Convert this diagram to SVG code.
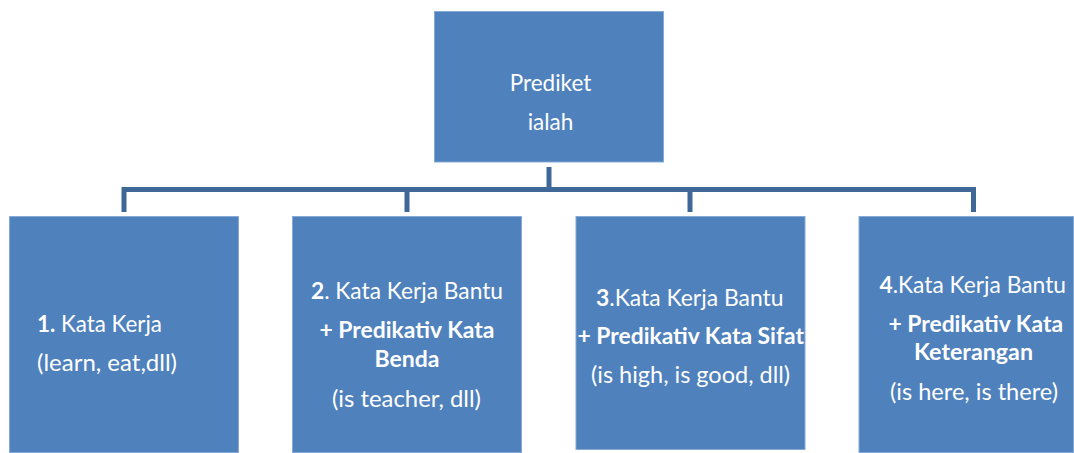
<svg xmlns="http://www.w3.org/2000/svg" width="1074" height="453" viewBox="0 0 1074 453">
<style>
.box{fill:#4F81BD;stroke:#86A9D6;stroke-width:1}
.t{font-family:Lato,"Open Sans","Liberation Sans",sans-serif;font-size:22.5px;fill:#FFFFFF}
.b{font-weight:bold}
.m{text-anchor:middle}
.conn{fill:none;stroke:#3F6797;stroke-width:5;stroke-linejoin:miter;stroke-linecap:butt}
</style>
<rect width="1074" height="453" fill="#FFFFFF"/>
<g id="connectors">
<path class="conn" d="M549,167 V189.5"/>
<path class="conn" d="M124,212 V189.5 H973.5 V212"/>
<path class="conn" d="M407,189.5 V212"/>
<path class="conn" d="M690,189.5 V212"/>
</g>
<g id="node-root">
<rect class="box" x="434.5" y="11.5" width="229" height="150.5"/>
<text class="t m" x="550.5" y="90.5">Prediket</text>
<text class="t m" x="550.5" y="129.5">ialah</text>
</g>
<g id="node-1">
<rect class="box" x="9.5" y="216.5" width="229" height="236"/>
<text class="t" x="37" y="331.5" textLength="125" lengthAdjust="spacingAndGlyphs"><tspan class="b">1.</tspan> Kata Kerja</text>
<text class="t" x="37" y="370.5" textLength="140" lengthAdjust="spacingAndGlyphs">(learn, eat,dll)</text>
</g>
<g id="node-2">
<rect class="box" x="292.5" y="216.5" width="229" height="236"/>
<text class="t" x="311" y="298.5" textLength="192" lengthAdjust="spacingAndGlyphs"><tspan class="b">2</tspan>. Kata Kerja Bantu</text>
<text class="t b" x="319.5" y="337.5" textLength="175" lengthAdjust="spacingAndGlyphs">+ Predikativ Kata</text>
<text class="t b" x="374.5" y="366.5" textLength="65" lengthAdjust="spacingAndGlyphs">Benda</text>
<text class="t" x="332" y="406.5" textLength="149" lengthAdjust="spacingAndGlyphs">(is teacher, dll)</text>
</g>
<g id="node-3">
<rect class="box" x="576" y="216.5" width="229" height="233"/>
<text class="t" x="596" y="305.5" textLength="187.5" lengthAdjust="spacingAndGlyphs"><tspan class="b">3</tspan>.Kata Kerja Bantu</text>
<text class="t b" x="577.5" y="344" textLength="226.5" lengthAdjust="spacingAndGlyphs">+ Predikativ Kata Sifat</text>
<text class="t" x="591" y="382.5" textLength="199" lengthAdjust="spacingAndGlyphs">(is high, is good, dll)</text>
</g>
<g id="node-4">
<rect class="box" x="859" y="216.5" width="214.5" height="236"/>
<text class="t" x="879.5" y="293" textLength="186.5" lengthAdjust="spacingAndGlyphs"><tspan class="b">4</tspan>.Kata Kerja Bantu</text>
<text class="t b" x="888.5" y="331.5" textLength="174.5" lengthAdjust="spacingAndGlyphs">+ Predikativ Kata</text>
<text class="t b" x="914" y="359.5" textLength="119" lengthAdjust="spacingAndGlyphs">Keterangan</text>
<text class="t" x="890" y="399.5" textLength="168" lengthAdjust="spacingAndGlyphs">(is here, is there)</text>
</g>
</svg>
